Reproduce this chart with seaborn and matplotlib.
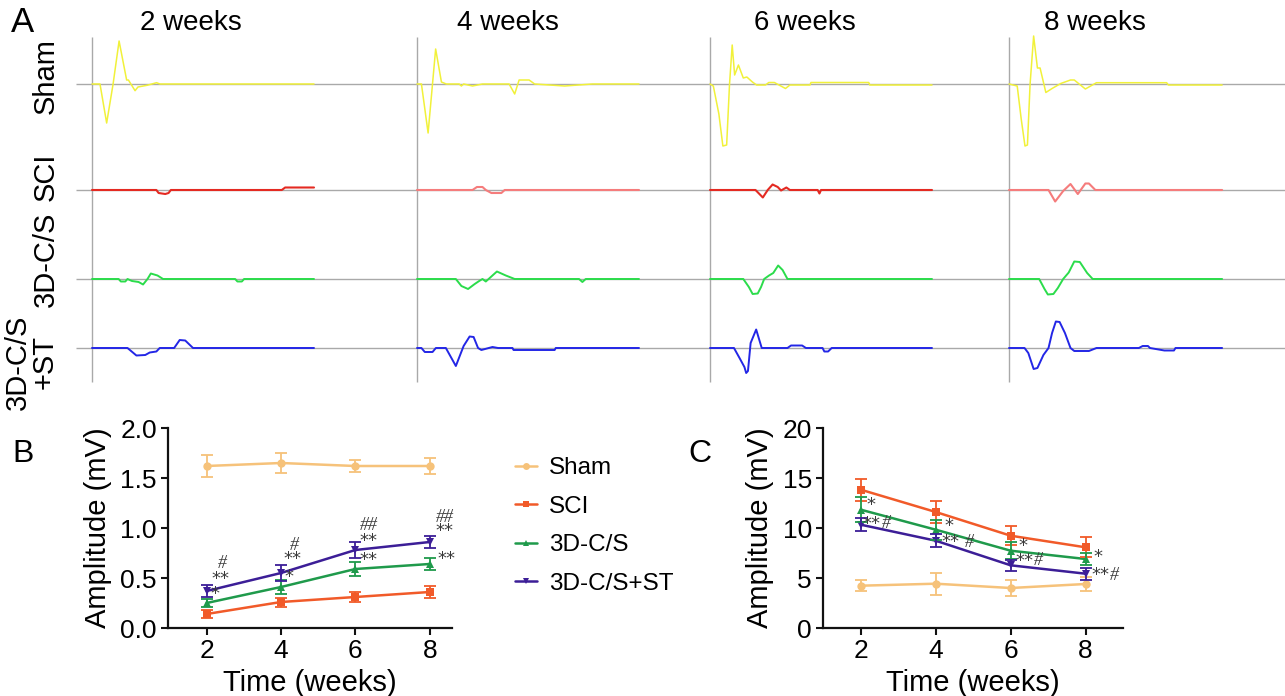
import numpy as np
import pandas as pd
import matplotlib
matplotlib.use("Agg")
import matplotlib.pyplot as plt
import matplotlib.transforms as mtransforms
from matplotlib.lines import Line2D
import seaborn as sns

# ------------------------------------------------------------------ data
WEEK_TITLES = ["2 weeks", "4 weeks", "6 weeks", "8 weeks"]
ROW_LABELS = ["Sham", "SCI", "3D-C/S", "3D-C/S\n+ST"]

# Panel A traces: time (ms) and amplitude (mV) per week (2, 4, 6, 8)
SHAM_T = [
    [0, 0.36, 0.66, 0.95, 1.22, 1.56, 1.64, 1.94, 2.07, 2.48, 2.91, 3.06, 10],
    [0, 0.2, 0.5, 0.84, 1.1, 1.32, 1.9, 2.0, 2.1, 2.5, 2.95, 4.15, 4.4, 4.6, 5.05, 5.3, 6.65, 7.9, 10],
    [0, 0.15, 0.4, 0.58, 0.75, 0.88, 1.0, 1.11, 1.28, 1.5, 1.66, 1.91, 2.1, 2.5, 2.65, 2.9, 3.4, 3.6, 4.5, 4.55, 7.15, 7.2, 10],
    [0, 0.37, 0.55, 0.72, 0.83, 0.95, 1.11, 1.28, 1.4, 1.66, 1.94, 2.33, 2.77, 2.94, 3.44, 3.94, 7.1, 7.18, 9.6],
]
SHAM_A = [
    [0, 0, -3.9, 0, 4.3, 0.4, 0.4, -0.67, -0.3, -0.13, 0.13, 0, 0],
    [0, 0, -4.9, 3.5, 0.2, 0, 0, -0.2, 0, -0.2, 0, 0, -1.0, 0.4, 0.4, 0, -0.2, 0, 0],
    [0, -0.2, -3.0, -6.2, -6.1, 0, 3.9, 0.9, 1.9, 0.6, 0.7, 0.2, -0.1, -0.1, 0.15, 0.15, -0.45, -0.1, -0.1, 0.15, 0.15, -0.1, -0.1],
    [0, -0.2, -3.5, -6.2, -6.1, 0, 4.8, 1.6, 1.6, -0.85, -0.45, 0.05, 0.4, 0.4, -0.5, 0.13, 0.13, -0.1, -0.1],
]
SCI_T = [
    [0, 2.9, 3.0, 3.3, 3.45, 3.55, 8.55, 8.7, 10],
    [0, 2.5, 2.7, 2.95, 3.1, 3.35, 3.8, 3.95, 10],
    [0, 2.05, 2.38, 2.6, 2.82, 3.05, 3.2, 3.44, 3.6, 4.85, 4.93, 5.0, 10],
    [0, 1.78, 2.08, 2.44, 2.77, 3.1, 3.44, 3.6, 3.89, 9.6],
]
SCI_A = [
    [0, 0, -0.3, -0.4, -0.3, 0, 0, 0.25, 0.25],
    [0, 0, 0.3, 0.3, 0, -0.3, -0.3, 0, 0],
    [0, 0, -0.75, 0, 0.55, 0.3, -0.05, 0.25, 0, 0, -0.35, 0, 0],
    [0, 0, -1.15, -0.1, 0.6, -0.4, 0.65, 0.65, 0, 0],
]
CS_T = [
    [0, 1.2, 1.3, 1.5, 1.6, 1.8, 2.1, 2.3, 2.5, 2.65, 2.95, 3.2, 6.45, 6.55, 6.75, 6.85, 10],
    [0, 1.75, 2.0, 2.3, 2.6, 2.8, 2.95, 3.1, 3.6, 4.0, 4.4, 7.3, 7.45, 7.6, 10],
    [0, 1.5, 1.75, 1.92, 2.15, 2.3, 2.44, 2.66, 2.85, 3.07, 3.27, 3.49, 10],
    [0, 1.36, 1.6, 1.75, 2.0, 2.2, 2.44, 2.69, 2.94, 3.19, 3.52, 3.77, 9.6],
]
CS_A = [
    [0, 0, -0.25, -0.25, 0, -0.2, -0.3, -0.55, 0, 0.55, 0.35, 0, 0, -0.25, -0.25, 0, 0],
    [0, 0, -0.7, -1.0, -0.5, -0.2, 0, -0.25, 0.75, 0.35, 0, 0, -0.3, 0, 0],
    [0, 0, -0.8, -1.5, -1.45, -0.8, 0, 0.35, 0.6, 1.35, 0.9, 0, 0],
    [0, 0, -1.0, -1.55, -1.5, -0.9, 0, 0.65, 1.75, 1.7, 0.6, 0, 0],
]
ST_T = [
    [0, 1.6, 2.0, 2.4, 2.6, 2.9, 3.05, 3.7, 3.95, 4.2, 4.55, 10],
    [0, 0.2, 0.35, 0.7, 0.85, 1.3, 1.75, 2.1, 2.37, 2.55, 2.75, 2.9, 3.4, 3.65, 4.3, 4.35, 6.2, 6.25, 10],
    [0, 1.08, 1.33, 1.55, 1.63, 1.71, 1.83, 2.08, 2.33, 3.49, 3.65, 4.15, 4.32, 5.07, 5.15, 5.32, 5.48, 10],
    [0, 0.7, 0.87, 1.11, 1.28, 1.55, 1.78, 1.94, 2.11, 2.28, 2.52, 2.77, 2.94, 3.6, 3.94, 5.85, 6.02, 6.26, 6.35, 7.0, 7.43, 7.5, 9.6],
]
ST_A = [
    [0, 0, -0.75, -0.7, -0.45, -0.35, 0, 0, 0.8, 0.75, 0, 0],
    [0, 0, -0.4, -0.4, 0, 0, -1.8, 0.2, 1.15, 1.1, 0, -0.2, 0.1, 0, 0, -0.2, -0.2, 0, 0],
    [0, 0, -1.0, -1.9, -2.5, -2.3, 0.5, 1.85, 0, 0, 0.25, 0.25, 0, 0, -0.35, -0.35, 0, 0],
    [0, 0, -0.5, -2.1, -2.0, -0.7, 0, 1.5, 2.65, 2.6, 1.5, 0, -0.3, -0.3, 0, 0, 0.2, 0.2, 0, -0.25, -0.25, 0, 0],
]

# Panels B and C
WEEKS = [2, 4, 6, 8]
GROUPS = ["Sham", "SCI", "3D-C/S", "3D-C/S+ST"]

B_SHAM = [1.62, 1.65, 1.62, 1.62]
B_SHAM_ERR = [0.11, 0.10, 0.06, 0.08]
B_SCI = [0.14, 0.26, 0.31, 0.36]
B_SCI_ERR = [0.04, 0.045, 0.05, 0.06]
B_CS = [0.25, 0.41, 0.59, 0.64]
B_CS_ERR = [0.04, 0.07, 0.07, 0.06]
B_ST = [0.37, 0.55, 0.78, 0.86]
B_ST_ERR = [0.06, 0.08, 0.08, 0.06]

C_SHAM = [4.23, 4.43, 4.0, 4.4]
C_SHAM_ERR = [0.55, 1.1, 0.8, 0.7]
C_SCI = [13.83, 11.6, 9.23, 8.07]
C_SCI_ERR = [1.08, 1.08, 0.95, 1.0]
C_CS = [11.83, 9.83, 7.73, 6.9]
C_CS_ERR = [1.25, 1.0, 0.83, 0.6]
C_ST = [10.33, 8.73, 6.27, 5.43]
C_ST_ERR = [0.63, 0.63, 0.58, 0.62]

# significance marks (x in weeks, y in mV)
B_MARKS = [
    (2.41, 0.65, "#"), (2.36, 0.49, "**"), (2.23, 0.34, "*"),
    (4.37, 0.83, "#"), (4.32, 0.69, "**"), (4.21, 0.51, "*"),
    (6.36, 1.02, "##"), (6.36, 0.87, "**"), (6.36, 0.68, "**"),
    (8.40, 1.11, "##"), (8.40, 0.97, "**"), (8.45, 0.69, "**"),
]
C_MARKS = [
    (2.14, 12.3, "*"), (2.05, 10.4, "**#"),
    (4.22, 10.2, "*"), (4.15, 8.57, "** #"),
    (6.21, 8.17, "*"), (6.13, 6.73, "**#"),
    (8.22, 7.1, "*"), (8.15, 5.26, "**#"),
]

# ------------------------------------------------------------------ style
sns.set_theme(style="white")
plt.rcParams['font.family'] = ['Liberation Sans', 'DejaVu Sans']
plt.rcParams['text.color'] = 'black'
plt.rcParams['axes.labelcolor'] = 'black'
plt.rcParams['xtick.color'] = 'black'
plt.rcParams['ytick.color'] = 'black'

W, H = 1285, 696
fig = plt.figure(figsize=(W / 100, H / 100), dpi=100)
fig.patch.set_facecolor("white")


def rect(l, t, r, b):
    return [l / W, 1 - b / H, (r - l) / W, (b - t) / H]


def fx(px):
    return px / W


def fy(py):
    return 1 - py / H


TRACE_COLORS = {
    "Sham": ["#f1f13a", "#f1f13a", "#f1f13a", "#f1f13a"],
    "SCI": ["#e42a22", "#f57c7c", "#e42a22", "#f57c7c"],
    "3D-C/S": ["#2bdc4b", "#2bdc4b", "#2bdc4b", "#2bdc4b"],
    "3D-C/S+ST": ["#2326e6", "#2326e6", "#2326e6", "#2326e6"],
}
TRACE_LW = {"Sham": 1.1, "SCI": 1.5, "3D-C/S": 1.4, "3D-C/S+ST": 1.4}

# ------------------------------------------------------------------ panel A
PX_PER_MS = 22.2
A_LEFT, A_RIGHT, A_TOP, A_BOT = 76, 1285, 30, 385
axA = fig.add_axes(rect(A_LEFT, A_TOP, A_RIGHT, A_BOT))
axA.set_xlim(0, (A_RIGHT - A_LEFT) / PX_PER_MS)
axA.set_ylim(0, (A_BOT - A_TOP) / 10.0)
axA.axis("off")

col_px = [92, 417, 710, 1009]
col_off = [(c - A_LEFT) / PX_PER_MS for c in col_px]
row_px = [84, 190, 279, 348]
row_base = [(A_BOT - r) / 10.0 for r in row_px]

axA.hlines(row_base, 0, (A_RIGHT - A_LEFT) / PX_PER_MS, color="#a9a9a9", lw=1.0, zorder=1)
axA.vlines(col_off, (A_BOT - 382) / 10.0, (A_BOT - 37) / 10.0, color="#a9a9a9", lw=1.0, zorder=1)

traces = [("Sham", SHAM_T, SHAM_A), ("SCI", SCI_T, SCI_A),
          ("3D-C/S", CS_T, CS_A), ("3D-C/S+ST", ST_T, ST_A)]
for r, (name, TT, AA) in enumerate(traces):
    for c in range(4):
        t = np.array(TT[c]) + col_off[c]
        a = np.array(AA[c]) + row_base[r]
        axA.plot(t, a, color=TRACE_COLORS[name][c], lw=TRACE_LW[name],
                 solid_joinstyle="round", zorder=2)

fig.text(fx(22), fy(22), "A", fontsize=25, ha="center", va="center")
for title, cx in zip(WEEK_TITLES, [191, 508, 805, 1095]):
    fig.text(fx(cx), fy(23), title, fontsize=20, ha="center", va="center")
for lab, (cx, cy) in zip(ROW_LABELS, [(46, 76), (46, 177), (46, 259), (31, 362)]):
    fig.text(fx(cx), fy(cy), lab, fontsize=21, ha="center", va="center",
             rotation=90, linespacing=0.95, multialignment="center")

# ------------------------------------------------------------------ panels B & C
PALETTE = {"Sham": "#f6c27a", "SCI": "#f15a29", "3D-C/S": "#1f9a4b", "3D-C/S+ST": "#3c1e97"}
MARKERS = {"Sham": "o", "SCI": "s", "3D-C/S": "^", "3D-C/S+ST": "v"}


def long_df(vals):
    rows = []
    for g, v in zip(GROUPS, vals):
        for wk, y in zip(WEEKS, v):
            rows.append({"week": wk, "value": y, "group": g})
    return pd.DataFrame(rows)


def draw_panel(ax, vals, errs, ylim, yticks, fmt, xlim):
    df = long_df(vals)
    sns.lineplot(data=df, x="week", y="value", hue="group", style="group",
                 markers=MARKERS, dashes=False, palette=PALETTE, ax=ax,
                 legend=False, lw=1.8, markersize=6, markeredgewidth=0)
    for g, v, e in zip(GROUPS, vals, errs):
        ax.errorbar(WEEKS, v, yerr=e, fmt="none", ecolor=PALETTE[g],
                    elinewidth=1.3, capsize=4.5, capthick=1.3)
    ax.set_xlim(*xlim)
    ax.set_ylim(*ylim)
    ax.set_xticks(WEEKS)
    ax.set_yticks(yticks)
    ax.set_yticklabels([fmt.format(v) for v in yticks])
    ax.tick_params(axis="both", direction="out", length=5, width=1.5,
                   labelsize=19, pad=3, color="#111111", left=True, bottom=True)
    for s in ["top", "right"]:
        ax.spines[s].set_visible(False)
    for s in ["left", "bottom"]:
        ax.spines[s].set_linewidth(1.6)
        ax.spines[s].set_color("#111111")
    ax.set_xlabel("Time (weeks)", fontsize=21, labelpad=4)
    ax.set_ylabel("Amplitude (mV)", fontsize=21, labelpad=6)
    ax.set_facecolor("white")


axB = fig.add_axes(rect(168, 428, 452, 628))
draw_panel(axB, [B_SHAM, B_SCI, B_CS, B_ST], [B_SHAM_ERR, B_SCI_ERR, B_CS_ERR, B_ST_ERR],
           (0, 2.0), [0, 0.5, 1.0, 1.5, 2.0], "{:.1f}", (0.96, 8.6))
axC = fig.add_axes(rect(823, 428, 1123, 628))
draw_panel(axC, [C_SHAM, C_SCI, C_CS, C_ST], [C_SHAM_ERR, C_SCI_ERR, C_CS_ERR, C_ST_ERR],
           (0, 20), [0, 5, 10, 15, 20], "{:.0f}", (0.99, 9.0))

MARK_COLOR = "#3a3a3a"
STAR_KW = dict(fontsize=13, color=MARK_COLOR, family=["DejaVu Sans"], clip_on=False)
HASH_KW = dict(fontsize=13, color=MARK_COLOR, family=["Liberation Serif"],
               style="italic", clip_on=False)

for x, y, s in B_MARKS:
    kw = HASH_KW if "#" in s else STAR_KW
    axB.text(x, y, s, ha="center", va="center", **kw)

for x, y, s in C_MARKS:
    stars = s.replace("#", "").strip()
    n_hash = s.count("#")
    axC.text(x, y, stars, ha="left", va="center", **STAR_KW)
    if n_hash:
        gap = 4 if " " in s else 0.5
        off = mtransforms.ScaledTranslation((13 * 0.5 * len(stars) + gap) / 72, 0,
                                            fig.dpi_scale_trans)
        axC.text(x, y, "#" * n_hash, ha="left", va="center",
                 transform=axC.transData + off, **HASH_KW)

fig.text(fx(23), fy(454), "B", fontsize=23, ha="center", va="center")
fig.text(fx(700), fy(454), "C", fontsize=23, ha="center", va="center")

handles = [Line2D([0], [0], color=PALETTE[g], marker=MARKERS[g], lw=1.8,
                  markersize=5, markeredgewidth=0) for g in GROUPS]
fig.legend(handles, GROUPS, loc="upper left", bbox_to_anchor=(fx(515), fy(457)),
           frameon=False, fontsize=17.5, handlelength=0.9, handletextpad=0.5,
           labelspacing=0.68, borderpad=0, borderaxespad=0)

fig.savefig("out.png", dpi=100, facecolor="white")
